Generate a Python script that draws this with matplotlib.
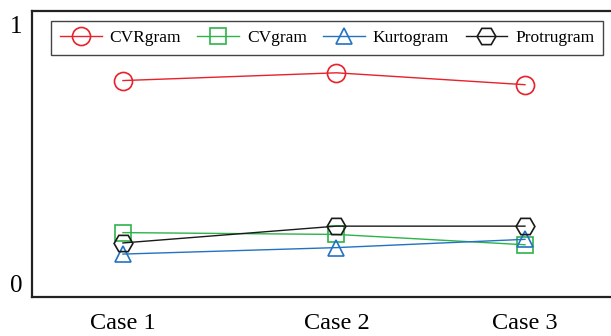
import matplotlib
matplotlib.use("Agg")
import matplotlib.pyplot as plt

plt.rcParams["font.family"] = ["Liberation Serif", "DejaVu Serif"]

cases = ["Case 1", "Case 2", "Case 3"]
case_pos = [1.0, 2.0, 2.883]

cvrgram = [0.785, 0.815, 0.769]
cvgram = [0.197, 0.190, 0.150]
kurtogram = [0.114, 0.139, 0.171]
protrugram = [0.157, 0.222, 0.222]

series = [
    ("CVRgram", cvrgram, "#E8212A", "o", 13),
    ("CVgram", cvgram, "#2DB34A", "s", 12),
    ("Kurtogram", kurtogram, "#2272C3", "^", 12),
    ("Protrugram", protrugram, "#1a1a1a", "H", 13.5),
]

fig = plt.figure(figsize=(6.11, 3.36), dpi=100)
ax = fig.add_axes([32 / 611, 1 - 297 / 336, 1 - 32 / 611, (297 - 11) / 336])

for name, vals, color, marker, ms in series:
    ax.plot(
        case_pos,
        vals,
        color=color,
        linewidth=1.0,
        marker=marker,
        markersize=ms,
        markerfacecolor="none",
        markeredgecolor=color,
        markeredgewidth=1.2,
        label=name,
    )

ax.set_xlim(0.574, 3.286)
ax.set_ylim(-0.052, 1.054)
ax.set_xticks(case_pos, labels=cases, fontsize=17.5)
ax.set_yticks([0, 1], labels=["0", "1"], fontsize=18)
ax.tick_params(axis="both", length=0, pad=7)
ax.tick_params(axis="x", pad=11.5)

for side in ["left", "bottom", "top"]:
    ax.spines[side].set_linewidth(1.6)
    ax.spines[side].set_color("#222222")
ax.spines["right"].set_visible(False)

leg = ax.legend(
    loc="upper left",
    bbox_to_anchor=(19 / 579, 276 / 286),
    borderaxespad=0,
    ncol=4,
    fontsize=12.5,
    handlelength=2.4,
    handletextpad=0.45,
    columnspacing=0.95,
    borderpad=0.52,
    fancybox=False,
    framealpha=1,
    edgecolor="#444444",
)
leg.get_frame().set_linewidth(1.0)

fig.savefig("out.png", dpi=100)
